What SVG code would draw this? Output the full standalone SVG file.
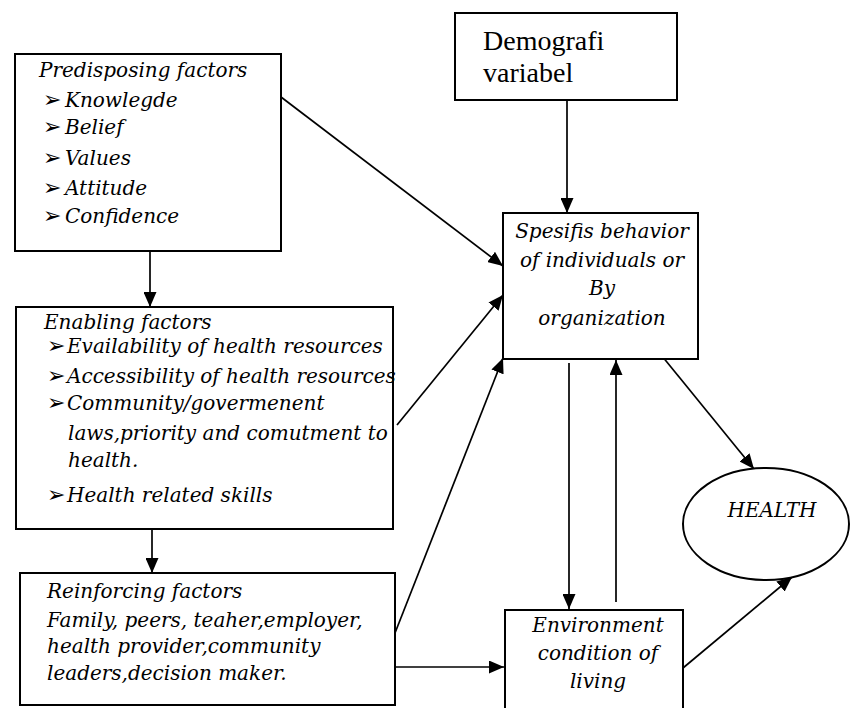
<svg xmlns="http://www.w3.org/2000/svg" width="851" height="708" viewBox="0 0 851 708">
<defs>
<marker id="ah" viewBox="0 0 15 13" refX="15" refY="6.5" markerWidth="15" markerHeight="13" markerUnits="userSpaceOnUse" orient="auto">
<path d="M0,0 L15,6.5 L0,13 Z" fill="#000"/>
</marker>
</defs>
<style>
.box{fill:#fff;stroke:#000;stroke-width:2}
.t{font-family:'DejaVu Serif',serif;font-style:italic;font-size:20px;fill:#000}
.r{font-family:'Liberation Serif','Times New Roman',serif;font-size:28px;fill:#000}
.c{text-anchor:middle}
.b{font-family:'DejaVu Sans',sans-serif;font-style:normal;font-size:22px}
.ln{fill:none;stroke:#000;stroke-width:1.7;marker-end:url(#ah)}
</style>
<rect width="851" height="708" fill="#fff"/>
<g id="connectors">
<line class="ln" x1="281" y1="97" x2="503" y2="266"/>
<line class="ln" x1="567" y1="100" x2="567" y2="213"/>
<line class="ln" x1="150" y1="251" x2="150" y2="307"/>
<line class="ln" x1="397" y1="425" x2="503" y2="295"/>
<line class="ln" x1="152" y1="529" x2="152" y2="573"/>
<line class="ln" x1="395" y1="633" x2="503" y2="358"/>
<line class="ln" x1="395" y1="667" x2="504" y2="667"/>
<line class="ln" x1="569" y1="363" x2="569" y2="609"/>
<line class="ln" x1="616" y1="602" x2="616" y2="360"/>
<line class="ln" x1="662" y1="356" x2="754" y2="469"/>
<line class="ln" x1="683" y1="668" x2="792" y2="577"/>
</g>
<g id="predisposing">
<rect class="box" x="15" y="54" width="266" height="197"/>
<text class="t" x="39" y="77">Predisposing factors</text>
<text class="t" x="43" y="107"><tspan class="b">➢</tspan><tspan x="65">Knowlegde</tspan></text>
<text class="t" x="43" y="134"><tspan class="b">➢</tspan><tspan x="65">Belief</tspan></text>
<text class="t" x="43" y="165"><tspan class="b">➢</tspan><tspan x="65">Values</tspan></text>
<text class="t" x="43" y="195"><tspan class="b">➢</tspan><tspan x="65">Attitude</tspan></text>
<text class="t" x="43" y="223"><tspan class="b">➢</tspan><tspan x="65">Confidence</tspan></text>
</g>
<g id="demografi">
<rect class="box" x="455" y="13" width="222" height="87"/>
<text class="r" x="483" y="50">Demografi</text>
<text class="r" x="483" y="82">variabel</text>
</g>
<g id="spesifis">
<rect class="box" x="503" y="213" width="195" height="146"/>
<text class="t c" x="602" y="238">Spesifis behavior</text>
<text class="t c" x="602" y="267">of individuals or</text>
<text class="t c" x="602" y="295">By</text>
<text class="t c" x="602" y="325">organization</text>
</g>
<g id="enabling">
<rect class="box" x="16" y="307" width="377" height="222"/>
<text class="t" x="44" y="329">Enabling factors</text>
<text class="t" x="47" y="353"><tspan class="b">➢</tspan><tspan x="67">Evailability of health resources</tspan></text>
<text class="t" x="47" y="383"><tspan class="b">➢</tspan><tspan x="67">Accessibility of health resources</tspan></text>
<text class="t" x="47" y="410"><tspan class="b">➢</tspan><tspan x="67">Community/govermenent</tspan></text>
<text class="t" x="68" y="440">laws,priority and comutment to</text>
<text class="t" x="68" y="467">health.</text>
<text class="t" x="47" y="502"><tspan class="b">➢</tspan><tspan x="67">Health related skills</tspan></text>
</g>
<g id="reinforcing">
<rect class="box" x="20" y="573" width="375" height="132"/>
<text class="t" x="47" y="598">Reinforcing factors</text>
<text class="t" x="47" y="627">Family, peers, teaher,employer,</text>
<text class="t" x="47" y="653">health provider,community</text>
<text class="t" x="47" y="680">leaders,decision maker.</text>
</g>
<g id="environment">
<rect class="box" x="505" y="610" width="178" height="105"/>
<text class="t c" x="598" y="632">Environment</text>
<text class="t c" x="598" y="660">condition of</text>
<text class="t c" x="598" y="688">living</text>
</g>
<g id="health">
<ellipse class="box" cx="766" cy="524" rx="83" ry="56"/>
<text class="t c" x="772" y="517">HEALTH</text>
</g>
</svg>
